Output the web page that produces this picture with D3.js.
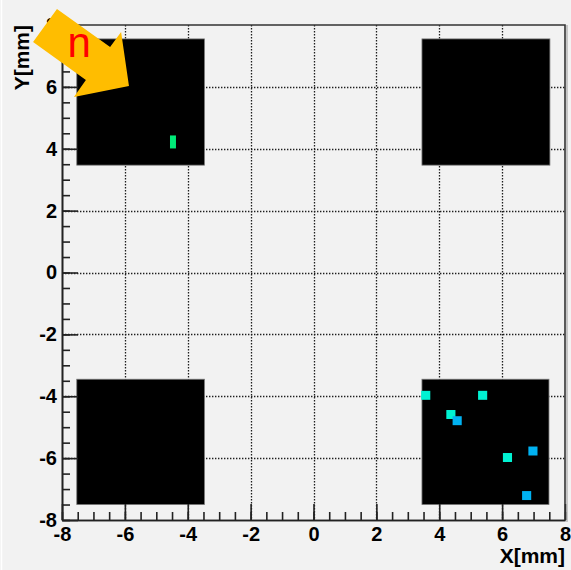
<!DOCTYPE html>
<html>
<head>
<meta charset="utf-8">
<script src="https://cdn.jsdelivr.net/npm/d3@7"></script>
<style>
  html, body { margin: 0; padding: 0; background: #f2f2f2; }
  svg { display: block; font-family: "Liberation Sans", Arial, Helvetica, sans-serif; }
</style>
</head>
<body>
<div id="chart"></div>
<script>
// axis ticks
const majorTicks = [-8, -6, -4, -2, 0, 2, 4, 6, 8];
const gridTicks = [-6, -4, -2, 0, 2, 4, 6];

// detector pads (mm)
const padX0 = [-7.53, 3.45, -7.53, 3.45];
const padX1 = [-3.47, 7.52, -3.47, 7.49];
const padY0 = [3.47, 3.47, -7.50, -7.50];
const padY1 = [7.55, 7.55, -3.45, -3.45];

// hits: centre, bin size, content
const hitX = [-4.47, 3.57, 5.38, 4.37, 4.57, 6.17, 6.98, 6.78];
const hitY = [4.22, -3.97, -3.97, -4.59, -4.79, -5.98, -5.77, -7.21];
const hitW = [0.19, 0.29, 0.29, 0.29, 0.29, 0.29, 0.29, 0.29];
const hitH = [0.42, 0.29, 0.29, 0.29, 0.29, 0.29, 0.29, 0.29];
const hitZ = [3, 2, 2, 2, 1, 2, 1, 1];

// annotation arrow (mm)
const arrowX = [-8.16, -6.47, -6.12, -5.87, -7.62, -7.24, -8.92];
const arrowY = [8.52, 7.29, 7.77, 6.03, 5.67, 6.22, 7.45];

const width = 571, height = 570;
const margin = { top: 25, right: 6, bottom: 50, left: 62 };

const svg = d3.select('#chart').append('svg')
  .attr('width', width)
  .attr('height', height);

svg.append('rect').attr('width', width).attr('height', height).attr('fill', '#f2f2f2');
svg.append('line').attr('x1', 1.5).attr('x2', 1.5).attr('y1', 0).attr('y2', height)
  .attr('stroke', '#ffffff').attr('stroke-width', 1.5);

const x = d3.scaleLinear().domain([-8, 8]).range([margin.left, width - margin.right]);
const y = d3.scaleLinear().domain([-8, 8]).range([height - margin.bottom, margin.top]);
const color = d3.scaleOrdinal().domain([1, 2, 3]).range(['#00b2f2', '#00f2d2', '#00ea78']);

// grid
const grid = svg.append('g').attr('stroke', '#1e1e1e').attr('stroke-dasharray', '1.4,1.6').attr('stroke-width', 1.3);
gridTicks.forEach(t => {
  grid.append('line')
    .attr('x1', Math.round(x(t)) + 0.5).attr('x2', Math.round(x(t)) + 0.5)
    .attr('y1', y(8)).attr('y2', y(-8));
  grid.append('line')
    .attr('x1', x(-8)).attr('x2', x(8))
    .attr('y1', Math.round(y(t)) + 0.5).attr('y2', Math.round(y(t)) + 0.5);
});

// pads
padX0.forEach((d, i) => {
  svg.append('rect')
    .attr('x', x(padX0[i]))
    .attr('y', y(padY1[i]))
    .attr('width', x(padX1[i]) - x(padX0[i]))
    .attr('height', y(padY0[i]) - y(padY1[i]))
    .attr('fill', '#000')
    .attr('stroke', '#777')
    .attr('stroke-width', 0.8);
});

// hits
hitX.forEach((d, i) => {
  svg.append('rect')
    .attr('x', x(hitX[i] - hitW[i] / 2))
    .attr('y', y(hitY[i] + hitH[i] / 2))
    .attr('width', x(hitW[i]) - x(0))
    .attr('height', y(0) - y(hitH[i]))
    .attr('fill', color(hitZ[i]));
});

// axes
const fmt = d => d3.format('d')(d).replace('−', '-');
const minor = d3.range(-8, 8.01, 0.5);

const xAxis = svg.append('g').attr('transform', `translate(0,${y(-8)})`);
xAxis.call(d3.axisBottom(x).tickValues(minor).tickFormat('').tickSize(-8).tickSizeOuter(0));
xAxis.append('g').call(d3.axisBottom(x).tickValues(majorTicks).tickFormat(fmt).tickSize(-16).tickSizeOuter(0).tickPadding(7));

const yAxis = svg.append('g').attr('transform', `translate(${x(-8)},0)`);
yAxis.call(d3.axisLeft(y).tickValues(minor).tickFormat('').tickSize(-8).tickSizeOuter(0));
yAxis.append('g').call(d3.axisLeft(y).tickValues(majorTicks).tickFormat(fmt).tickSize(-16).tickSizeOuter(0).tickPadding(5));

svg.selectAll('.domain, .tick line').attr('stroke', '#222').attr('stroke-width', 1.6);
svg.selectAll('.tick text')
  .attr('fill', '#000')
  .style('font-size', '20px')
  .style('font-weight', 'bold');

// frame top/right
svg.append('path')
  .attr('d', `M${x(-8)},${y(8)}H${x(8)}V${y(-8)}`)
  .attr('fill', 'none').attr('stroke', '#333').attr('stroke-width', 1.6);
svg.append('line')
  .attr('x1', x(8) + 2).attr('x2', x(8) + 2).attr('y1', y(8)).attr('y2', y(-8) + 2)
  .attr('stroke', '#999').attr('stroke-width', 1);

// axis titles
svg.append('text')
  .attr('x', x(8))
  .attr('y', height - 7)
  .attr('text-anchor', 'end')
  .style('font-size', '21px').style('font-weight', 'bold')
  .text('X[mm]');

svg.append('text')
  .attr('transform', `translate(29,${y(8)}) rotate(-90)`)
  .attr('text-anchor', 'end')
  .style('font-size', '21px').style('font-weight', 'bold')
  .text('Y[mm]');

// arrow annotation
svg.append('path')
  .attr('d', d3.line().x((d, i) => x(arrowX[i])).y((d, i) => y(arrowY[i]))(arrowX) + 'Z')
  .attr('fill', '#ffbd00');

svg.append('text')
  .attr('x', x(-7.45))
  .attr('y', y(6.95))
  .attr('text-anchor', 'middle')
  .attr('fill', '#ff0000')
  .style('font-size', '42px')
  .text('n');
</script>
</body>
</html>
